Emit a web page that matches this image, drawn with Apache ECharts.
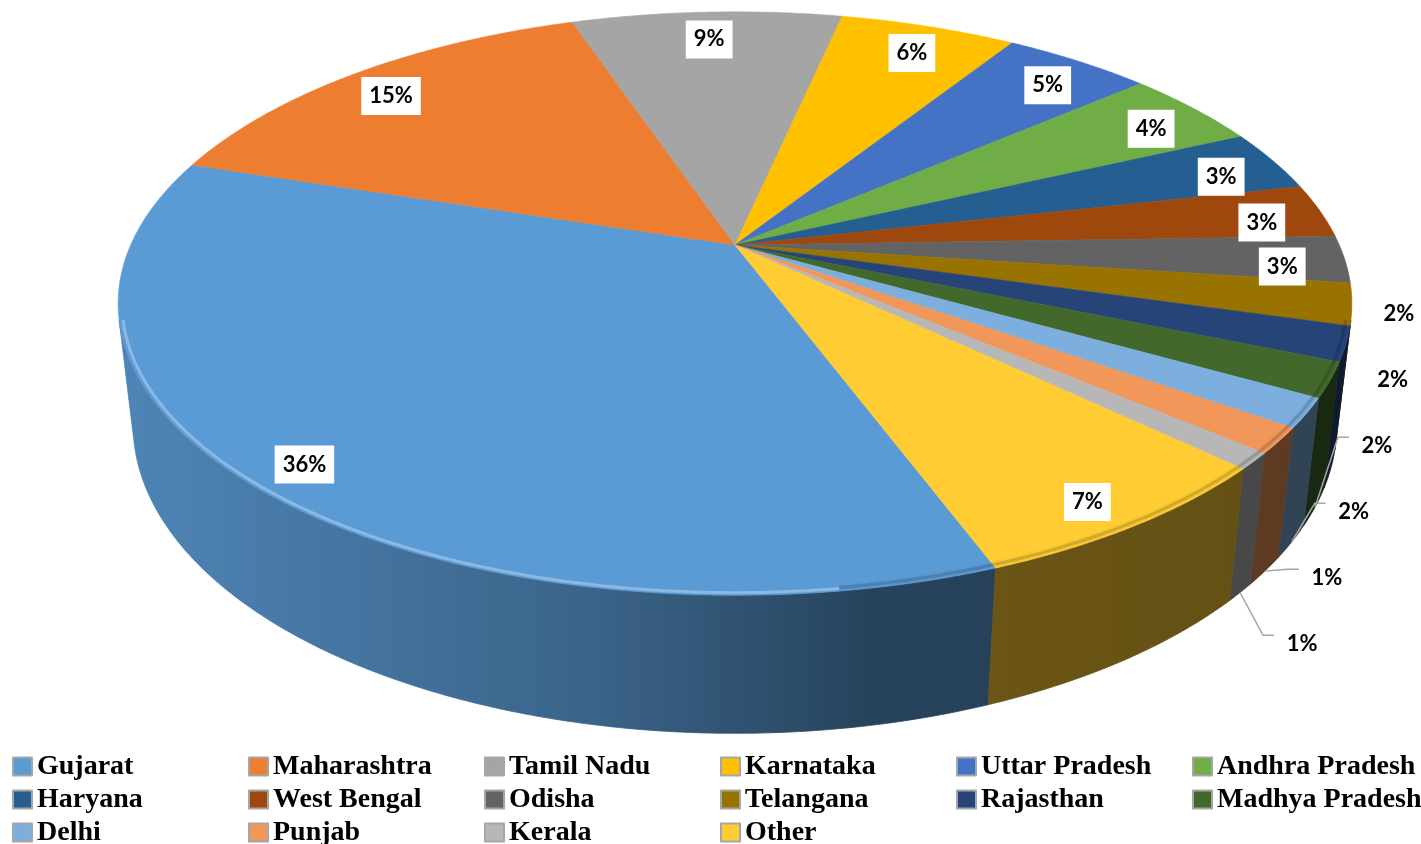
<!DOCTYPE html>
<html>
<head>
<meta charset="utf-8">
<script src="https://cdn.jsdelivr.net/npm/echarts@6/dist/echarts.min.js"></script>
<style>
  html, body { margin: 0; padding: 0; background: #fff; }
  #chart { width: 1421px; height: 844px; }
</style>
</head>
<body>
<div id="chart"></div>
<script>
const states = ['Gujarat', 'Maharashtra', 'Tamil Nadu', 'Karnataka', 'Uttar Pradesh', 'Andhra Pradesh',
  'Haryana', 'West Bengal', 'Odisha', 'Telangana', 'Rajasthan', 'Madhya Pradesh',
  'Delhi', 'Punjab', 'Kerala', 'Other'];
const shares = [35.6, 14.9, 8.6, 5.6, 4.7, 4.4, 3.4, 3.0, 2.6, 2.3, 1.9, 1.9, 1.6, 1.4, 0.9, 7.2];
const colors = ['#5B9BD5', '#ED7D31', '#A5A5A5', '#FFC000', '#4472C4', '#70AD47',
  '#255E91', '#9E480E', '#636363', '#997300', '#264478', '#43682B',
  '#7CAFDD', '#F1975A', '#B7B7B7', '#FFCD33'];

// tilted 3d disc, seen in perspective
const CX = 735, CY = 245;     // where the pie centre lands on screen
const FOCAL = 2668;
const RADIUS = 0.2265;        // disc radius / camera distance
const THICK = 0.0516;         // disc thickness / camera distance
const ELEV = 27.6 * Math.PI / 180;
const START = 159.5;          // first slice angle, clockwise from the back
const sinE = Math.sin(ELEV), cosE = Math.cos(ELEV);

function project(deg, rho, h) {
  const a = deg * Math.PI / 180;
  const l = rho * RADIUS * Math.sin(a);
  const f = -rho * RADIUS * Math.cos(a);
  const z = 1 - f * cosE - h * sinE;
  return [CX + FOCAL * l / z, CY + FOCAL * (f * sinE - h * cosE) / z];
}

function arc(a0, a1, rho, h) {
  const n = Math.max(2, Math.ceil((a1 - a0) / 0.5));
  const pts = [];
  for (let k = 0; k <= n; k++) pts.push(project(a0 + (a1 - a0) * k / n, rho, h));
  return pts;
}

const total = shares.reduce((s, v) => s + v, 0);
const slices = [];
let acc = START;
shares.forEach(v => {
  const span = v / total * 360;
  slices.push({a0: acc, a1: acc + span, mid: acc + span / 2, pct: v / total * 100});
  acc += span;
});

// the rim faces the viewer where cos(a) < -RADIUS / cos(ELEV)
const sideFrom = Math.acos(-RADIUS / cosE) * 180 / Math.PI;
const sideTo = 360 - sideFrom;
const LIGHT_FROM = 172;

function visibleRanges(a0, a1) {
  const out = [];
  [0, 360].forEach(off => {
    const lo = Math.max(a0, sideFrom + off), hi = Math.min(a1, sideTo + off);
    if (hi > lo) out.push([lo, hi]);
  });
  return out;
}

function rgb(hex) {
  const n = parseInt(hex.slice(1), 16);
  return [(n >> 16) & 255, (n >> 8) & 255, n & 255];
}
function shade(hex, f) {
  const c = rgb(hex).map(v => Math.round(v * f));
  return 'rgb(' + c.join(',') + ')';
}
function tint(hex, t) {
  const c = rgb(hex).map(v => Math.round(v + (255 - v) * t));
  return 'rgb(' + c.join(',') + ')';
}

const outline = arc(0, 360, 1, 0).map(p => p[0]);
const leftX = Math.min(...outline), rightX = Math.max(...outline);
function sideFill(hex) {
  return new echarts.graphic.LinearGradient(leftX, 0, rightX, 0, [
    {offset: 0, color: shade(hex, 0.86)},
    {offset: 0.39, color: shade(hex, 0.64)},
    {offset: 0.61, color: shade(hex, 0.43)},
    {offset: 1, color: shade(hex, 0.38)}
  ], true);
}

// data labels: inside with a white box, small slices outside with leader lines
const labels = [];
let lastOutY = -Infinity;
slices.forEach((s, i) => {
  const text = Math.round(s.pct) + '%';
  if (s.pct >= 2.5) {
    const p = project(s.mid, 0.9, -0.07 * THICK);
    labels.push({text, x: p[0], y: p[1], box: true, leader: null});
  } else {
    const rim = project(s.mid, 1, 0);
    const anchor = project(s.mid, 1, -THICK);
    const y = Math.max(rim[1] + 10, lastOutY + 66);
    const x = anchor[0] + 62;
    lastOutY = y;
    let leader = null;
    if (Math.hypot(x - rim[0], y - rim[1]) > 65) {
      const endX = x - 28, endY = y - 9;
      leader = [anchor, [endX - 11, endY], [endX, endY]];
    }
    labels.push({text, x, y, box: false, leader});
  }
});

function renderSlice(params, api) {
  const i = params.dataIndex, s = slices[i], color = colors[i];
  const children = [];
  visibleRanges(s.a0, s.a1).forEach(([lo, hi]) => {
    const fill = sideFill(color);
    const pts = arc(lo, hi, 1, 0).concat(arc(lo, hi, 1, -THICK).reverse());
    children.push({type: 'polygon', z2: 1, shape: {points: pts}, style: {fill: fill, stroke: fill, lineWidth: 0.8}});
    const base = lo >= 360 ? 360 : 0;
    const split = LIGHT_FROM + base;
    if (hi > split) {
      children.push({type: 'polyline', z2: 7, shape: {points: arc(Math.max(lo, split), hi, 0.994, 0)},
        style: {stroke: tint(color, 0.3), lineWidth: 3, fill: null}});
    }
    if (lo < split) {
      children.push({type: 'polyline', z2: 6, shape: {points: arc(lo, Math.min(hi, split), 0.992, 0)},
        style: {stroke: shade(color, 0.6), lineWidth: 3, opacity: 0.3, fill: null,
          shadowBlur: 3, shadowColor: shade(color, 0.6)}});
    }
  });
  const top = [project(0, 0, 0)].concat(arc(s.a0, s.a1, 1, 0));
  children.push({type: 'polygon', z2: 5, shape: {points: top}, style: {fill: color, stroke: color, lineWidth: 0.6}});
  return {type: 'group', children};
}

function renderLabel(params, api) {
  const lb = labels[params.dataIndex];
  const children = [];
  if (lb.leader) {
    children.push({type: 'polyline', shape: {points: lb.leader}, style: {stroke: '#a6a6a6', lineWidth: 1.5, fill: null}});
  }
  const style = {
    text: lb.text, x: 0, y: 0, fill: '#000', align: 'center', verticalAlign: 'middle',
    fontFamily: 'Lato', fontWeight: 'bold', fontSize: 22, lineHeight: 25
  };
  if (lb.box) {
    style.backgroundColor = '#fff';
    style.padding = [7, 8, 6, 8];
  }
  children.push({type: 'text', x: lb.x, y: lb.y, style});
  return {type: 'group', children};
}

const chart = echarts.init(document.getElementById('chart'), null, {renderer: 'canvas'});
chart.setOption({
  animation: false,
  backgroundColor: '#fff',
  legend: {
    left: 12, top: 750, width: 1500, padding: 0, itemGap: 0,
    itemWidth: 19, itemHeight: 18, icon: 'rect', selectedMode: false,
    itemStyle: {borderColor: '#a6a6a6', borderWidth: 2},
    textStyle: {fontFamily: 'Liberation Serif', fontWeight: 'bold', fontSize: 28, color: '#000',
      width: 211, lineHeight: 33},
    data: states
  },
  series: [
    {
      type: 'custom', name: 'slices', coordinateSystem: 'none', z: 2, silent: true,
      data: shares.map(v => [v]),
      renderItem: renderSlice
    },
    {
      type: 'custom', name: 'labels', coordinateSystem: 'none', z: 4, silent: true,
      data: shares.map(v => [v]),
      renderItem: renderLabel
    },
    {
      // only feeds names and colours to the legend
      type: 'pie', radius: [0, 0], center: [CX, CY], silent: true,
      label: {show: false}, labelLine: {show: false},
      data: states.map((n, i) => ({name: n, value: shares[i], itemStyle: {color: colors[i]}}))
    }
  ]
});
</script>
</body>
</html>
